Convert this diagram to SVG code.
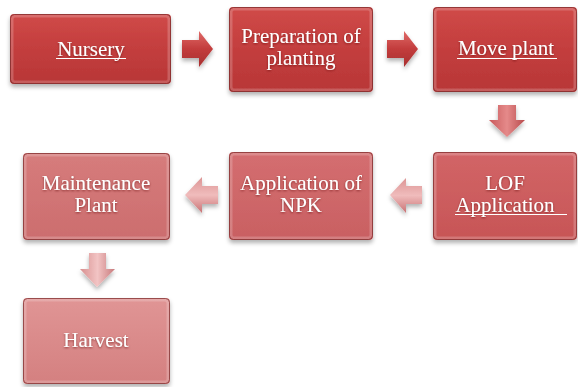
<svg xmlns="http://www.w3.org/2000/svg" width="578" height="387" viewBox="0 0 578 387">
<style>
.t{font-family:'Liberation Serif','Times New Roman','DejaVu Serif',serif;font-size:21px;fill:#ffffff;text-anchor:middle}
.u{stroke:#ffffff;stroke-width:1}
.edge{fill:none;stroke:#7a2a2a;stroke-width:1;stroke-opacity:0.7}
.bev{fill:none;stroke:#ffffff;stroke-opacity:0.2;stroke-width:3}
</style>
<defs>
<filter id="sh" x="-10%" y="-10%" width="120%" height="130%">
<feDropShadow dx="0" dy="3" stdDeviation="2" flood-color="#000" flood-opacity="0.3"/>
</filter>
<filter id="ts" x="-10%" y="-10%" width="120%" height="140%">
<feDropShadow dx="0" dy="1" stdDeviation="0.8" flood-color="#5a1010" flood-opacity="0.6"/>
</filter>
<linearGradient id="g1" x1="0" y1="0" x2="0" y2="1"><stop offset="0" stop-color="#d04a48"/><stop offset="0.5" stop-color="#c33e3e"/><stop offset="1" stop-color="#b83636"/></linearGradient>
<linearGradient id="g2" x1="0" y1="0" x2="0" y2="1"><stop offset="0" stop-color="#d26567"/><stop offset="1" stop-color="#c75556"/></linearGradient>
<linearGradient id="g3" x1="0" y1="0" x2="0" y2="1"><stop offset="0" stop-color="#d46e70"/><stop offset="1" stop-color="#c96062"/></linearGradient>
<linearGradient id="g4" x1="0" y1="0" x2="0" y2="1"><stop offset="0" stop-color="#d67c7c"/><stop offset="1" stop-color="#cc6d6e"/></linearGradient>
<linearGradient id="g5" x1="0" y1="0" x2="0" y2="1"><stop offset="0" stop-color="#e09595"/><stop offset="1" stop-color="#d48080"/></linearGradient>
<linearGradient id="ar1" x1="0" y1="0" x2="0" y2="1"><stop offset="0" stop-color="#e06a68"/><stop offset="0.5" stop-color="#c23c3c"/><stop offset="1" stop-color="#a83030"/></linearGradient>
<linearGradient id="ar2" x1="0" y1="0" x2="1" y2="0"><stop offset="0" stop-color="#c95a5c"/><stop offset="0.5" stop-color="#e58a8a"/><stop offset="1" stop-color="#b84a4c"/></linearGradient>
<linearGradient id="ar3" x1="0" y1="0" x2="0" y2="1"><stop offset="0" stop-color="#dc9494"/><stop offset="0.5" stop-color="#f0bcbc"/><stop offset="1" stop-color="#c87274"/></linearGradient>
<linearGradient id="ar4" x1="0" y1="0" x2="1" y2="0"><stop offset="0" stop-color="#d89090"/><stop offset="0.5" stop-color="#f2c4c4"/><stop offset="1" stop-color="#c87a7c"/></linearGradient>
</defs>

<g id="connectors">
<path filter="url(#sh)" fill="url(#ar1)" d="M182,40 H199 V31 L213,49 L199,67 V58 H182 Z"/>
<path filter="url(#sh)" fill="url(#ar1)" d="M387,40 H404 V31 L418,49 L404,67 V58 H387 Z"/>
<path filter="url(#sh)" fill="url(#ar2)" d="M498,105 H516 V120 H525 L507,137 L489,120 H498 Z"/>
<path filter="url(#sh)" fill="url(#ar3)" d="M422,186 H406 V178 L390,195 L406,213 V204 H422 Z"/>
<path filter="url(#sh)" fill="url(#ar3)" d="M218,186 H202 V177 L185,195 L202,213 V204 H218 Z"/>
<path filter="url(#sh)" fill="url(#ar4)" d="M89,253 H106 V269 H115 L97,287 L80,269 H89 Z"/>
</g>

<g id="n1">
<rect filter="url(#sh)" x="10" y="14" width="161" height="70" rx="4" fill="url(#g1)"/>
<rect class="bev" x="12" y="16" width="157" height="66" rx="3"/>
<rect class="edge" x="10.5" y="14.5" width="160" height="69" rx="4"/>
<text class="t" font-family="Liberation Serif, serif" filter="url(#ts)" x="91" y="56">Nursery</text>
<line class="u" x1="56" y1="58.5" x2="126" y2="58.5"/>
</g>

<g id="n2">
<rect filter="url(#sh)" x="229" y="7" width="144" height="85" rx="4" fill="url(#g1)"/>
<rect class="bev" x="231" y="9" width="140" height="81" rx="3"/>
<rect class="edge" x="229.5" y="7.5" width="143" height="84" rx="4"/>
<text class="t" font-family="Liberation Serif, serif" filter="url(#ts)" x="301" y="43">Preparation of</text>
<text class="t" font-family="Liberation Serif, serif" filter="url(#ts)" x="301" y="65">planting</text>
</g>

<g id="n3">
<rect filter="url(#sh)" x="433" y="7" width="144" height="85" rx="4" fill="url(#g1)"/>
<rect class="bev" x="435" y="9" width="140" height="81" rx="3"/>
<rect class="edge" x="433.5" y="7.5" width="143" height="84" rx="4"/>
<text class="t" font-family="Liberation Serif, serif" filter="url(#ts)" x="506" y="55">Move plant</text>
<line class="u" x1="457" y1="58.5" x2="557" y2="58.5"/>
</g>

<g id="n4">
<rect filter="url(#sh)" x="433" y="152" width="144" height="88" rx="4" fill="url(#g2)"/>
<rect class="bev" x="435" y="154" width="140" height="84" rx="3"/>
<rect class="edge" x="433.5" y="152.5" width="143" height="87" rx="4"/>
<text class="t" font-family="Liberation Serif, serif" filter="url(#ts)" x="505" y="190">LOF</text>
<text class="t" font-family="Liberation Serif, serif" filter="url(#ts)" x="505" y="212">Application</text>
<line class="u" x1="455" y1="214.5" x2="567" y2="214.5"/>
</g>

<g id="n5">
<rect filter="url(#sh)" x="229" y="152" width="144" height="88" rx="4" fill="url(#g3)"/>
<rect class="bev" x="231" y="154" width="140" height="84" rx="3"/>
<rect class="edge" x="229.5" y="152.5" width="143" height="87" rx="4"/>
<text class="t" font-family="Liberation Serif, serif" filter="url(#ts)" x="301" y="190">Application of</text>
<text class="t" font-family="Liberation Serif, serif" filter="url(#ts)" x="301" y="212">NPK</text>
</g>

<g id="n6">
<rect filter="url(#sh)" x="23" y="153" width="147" height="87" rx="4" fill="url(#g4)"/>
<rect class="bev" x="25" y="155" width="143" height="83" rx="3"/>
<rect class="edge" x="23.5" y="153.5" width="146" height="86" rx="4"/>
<text class="t" font-family="Liberation Serif, serif" filter="url(#ts)" x="96" y="190">Maintenance</text>
<text class="t" font-family="Liberation Serif, serif" filter="url(#ts)" x="96" y="212">Plant</text>
</g>

<g id="n7">
<rect filter="url(#sh)" x="23" y="298" width="147" height="86" rx="4" fill="url(#g5)"/>
<rect class="bev" x="25" y="300" width="143" height="82" rx="3"/>
<rect class="edge" x="23.5" y="298.5" width="146" height="85" rx="4"/>
<text class="t" font-family="Liberation Serif, serif" filter="url(#ts)" x="96" y="347">Harvest</text>
</g>
</svg>
